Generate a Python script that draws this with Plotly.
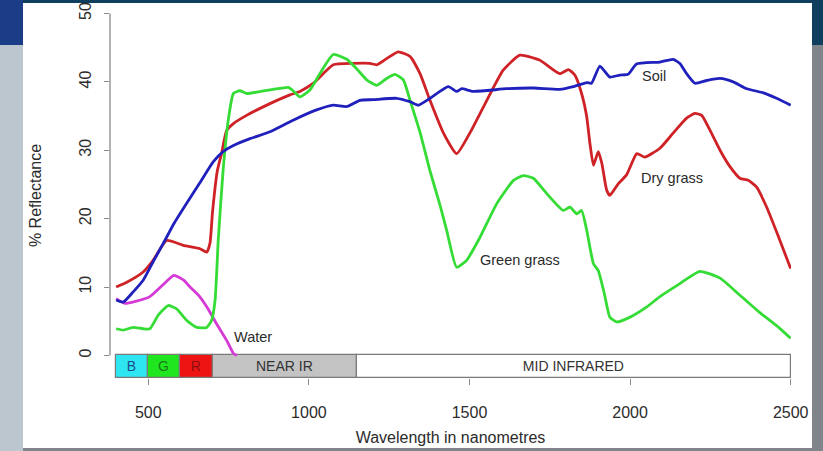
import plotly.graph_objects as go

# ---------------- data ----------------
water_wl = [400, 427, 460, 505, 545, 580, 610, 630, 660, 682, 713, 744, 765, 776]
water_pct = [8.3, 7.6, 7.9, 8.6, 10.3, 11.7, 11.0, 10.0, 8.6, 7.1, 4.6, 2.2, 0.3, 0.0]

green_wl = [400, 422, 453, 484, 505, 531, 562, 588, 620, 651, 682, 697, 708, 718, 733, 749,
            765, 785, 806, 850, 889, 936, 951, 972, 1003, 1034, 1076, 1118, 1149, 1180, 1211,
            1242, 1268, 1294, 1315, 1346, 1377, 1408, 1429, 1460, 1491, 1533, 1585, 1637,
            1668, 1699, 1740, 1792, 1813, 1834, 1849, 1865, 1886, 1901, 1920, 1937, 1958,
            2000, 2052, 2093, 2155, 2217, 2280, 2342, 2403, 2465, 2500]
green_pct = [3.9, 3.7, 4.1, 3.9, 3.9, 5.9, 7.3, 6.8, 5.1, 4.1, 4.1, 5.1, 8.1, 17.0, 27.1, 34.4,
             38.3, 38.7, 38.3, 38.6, 38.9, 39.2, 38.7, 37.8, 38.8, 41.2, 44.0, 43.3, 41.9, 40.3, 39.5,
             40.5, 41.1, 40.3, 37.3, 32.6, 27.0, 22.0, 18.3, 12.9, 13.9, 17.3, 22.2, 25.6,
             26.3, 25.9, 23.7, 21.2, 21.7, 20.7, 21.2, 18.3, 13.4, 12.4, 9.0, 5.6, 4.9,
             5.6, 7.1, 8.6, 10.5, 12.3, 11.3, 8.8, 6.3, 4.0, 2.5]

dry_wl = [400, 433, 484, 515, 557, 609, 661, 682, 692, 700, 715, 728, 744, 765, 806, 869, 941,
          972, 1014, 1076, 1138, 1190, 1211, 1242, 1278, 1315, 1346, 1377, 1419, 1460, 1501,
          1554, 1605, 1657, 1718, 1781, 1808, 1828, 1849, 1865, 1875, 1886, 1901, 1912, 1927,
          1937, 1963, 1989, 2021, 2046, 2093, 2134, 2176, 2202, 2223, 2249, 2280, 2311, 2342,
          2368, 2394, 2425, 2460, 2500]
dry_pct = [10.0, 10.7, 12.2, 13.9, 16.8, 16.1, 15.6, 15.1, 16.4, 21.0, 27.0, 29.5, 32.9, 33.9,
           35.1, 36.6, 38.1, 38.6, 39.8, 42.5, 42.7, 42.7, 42.5, 43.4, 44.4, 43.7, 41.2, 37.3,
           32.5, 29.5, 32.5, 37.3, 41.7, 43.9, 43.2, 41.2, 41.8, 41.0, 38.3, 34.9, 31.0, 27.8,
           29.8, 28.1, 24.2, 23.4, 25.1, 26.4, 29.5, 29.0, 30.3, 32.5, 34.7, 35.4, 35.1, 32.9,
           30.0, 27.6, 25.9, 25.6, 24.6, 21.7, 17.6, 12.7]

soil_wl = [400, 422, 453, 484, 515, 547, 580, 620, 660, 702, 733, 765, 817, 879, 951, 1024, 1076,
           1118, 1159, 1200, 1273, 1315, 1341, 1377, 1434, 1460, 1476, 1512, 1616, 1700, 1781,
           1823, 1865, 1880, 1906, 1937, 1968, 1994, 2020, 2093, 2134, 2155, 2176, 2202, 2239,
           2280, 2321, 2363, 2415, 2456, 2500]
soil_pct = [8.1, 7.8, 9.3, 11.0, 13.7, 16.4, 19.3, 22.3, 25.2, 28.3, 29.8, 30.7, 31.7, 32.7, 34.4,
            35.9, 36.6, 36.4, 37.3, 37.4, 37.6, 37.1, 36.6, 37.6, 39.3, 38.6, 39.0, 38.6, 39.0,
            39.1, 38.9, 39.3, 39.9, 39.8, 42.3, 40.7, 41.0, 41.1, 42.6, 42.9, 43.3, 42.7, 41.2,
            39.8, 40.2, 40.5, 40.0, 39.0, 38.4, 37.6, 36.6]

band_edges = [400, 500, 600, 700, 1150, 2500]
band_labels = ["B", "G", "R", "NEAR IR", "MID INFRARED"]

label_text = ["Water", "Green grass", "Dry grass", "Soil"]
label_wl = [825, 1657, 2129, 2074]
label_pct = [2.7, 13.9, 26.0, 40.9]

x_ticks = [500, 1000, 1500, 2000, 2500]
y_ticks = [0, 10, 20, 30, 40, 50]

# ---------------- styling ----------------
W, H = 823, 451
ML, MR, MT, MB = 110, 32, 13, 73
PW, PH = W - ML - MR, H - MT - MB
FONT = "Liberation Sans, Arial, sans-serif"
TXT = "#2b2b2b"
AX = "#8a8a8a"

band_fill = ["#2ee6f2", "#1fe61f", "#ee1414", "#c3c3c3", "#ffffff"]
band_text = ["#1b4f8a", "#1a7a1a", "#8a1010", "#333333", "#333333"]


def px_x(p):
    return (p - ML) / PW


def px_y(p):
    return (H - MB - p) / PH


fig = go.Figure()

# spectral band strip
centers = [(a + b) / 2 for a, b in zip(band_edges[:-1], band_edges[1:])]
widths = [b - a for a, b in zip(band_edges[:-1], band_edges[1:])]
base = -3.25
fig.add_trace(go.Bar(
    x=centers, width=widths, y=[-base] * len(centers), base=base,
    marker=dict(color=band_fill, line=dict(color="#7a7a7a", width=1.2)),
    text=band_labels, textposition="inside", insidetextanchor="middle",
    textangle=0, constraintext="none",
    textfont=dict(family=FONT, size=14, color=band_text),
    hoverinfo="skip", showlegend=False,
))

series = [
    (water_wl, water_pct, "#d63ad6"),
    (dry_wl, dry_pct, "#cf2227"),
    (green_wl, green_pct, "#35dc35"),
    (soil_wl, soil_pct, "#2020bd"),
]
for xs, ys, col in series:
    fig.add_trace(go.Scatter(
        x=xs, y=ys, mode="lines",
        line=dict(color=col, width=2.8, shape="spline", smoothing=0.5),
        hoverinfo="skip", showlegend=False,
    ))

for t, xv, yv in zip(label_text, label_wl, label_pct):
    fig.add_annotation(x=xv, y=yv, text=t, showarrow=False,
                       font=dict(family=FONT, size=14.5, color=TXT))

shapes = [
    # slide background pieces
    dict(type="rect", xref="paper", yref="paper", x0=px_x(0), x1=px_x(W), y0=px_y(0), y1=px_y(45),
         fillcolor="#0f3e5e", line=dict(width=0), layer="below"),
    dict(type="rect", xref="paper", yref="paper", x0=px_x(0), x1=px_x(23), y0=px_y(0), y1=px_y(45),
         fillcolor="#1b3c86", line=dict(width=0), layer="below"),
    dict(type="rect", xref="paper", yref="paper", x0=px_x(0), x1=px_x(23), y0=px_y(45), y1=px_y(H),
         fillcolor="#bcc6ce", line=dict(width=0), layer="below"),
    dict(type="rect", xref="paper", yref="paper", x0=px_x(23), x1=px_x(812), y0=px_y(3), y1=px_y(448),
         fillcolor="#ffffff", line=dict(width=0), layer="below"),
    # y axis line (0..50 only)
    dict(type="line", xref="paper", yref="y", x0=0, x1=0, y0=0, y1=50,
         line=dict(color=AX, width=1.3)),
]
fig.update_layout(shapes=shapes)

fig.update_layout(
    width=W, height=H,
    margin=dict(l=ML, r=MR, t=MT, b=MB, pad=0, autoexpand=False),
    paper_bgcolor="#7f858b", plot_bgcolor="rgba(0,0,0,0)",
    font=dict(family=FONT, color=TXT),
    bargap=0,
    xaxis=dict(range=[380.8, 2501], tickvals=x_ticks, ticks="outside", ticklen=6,
               tickcolor=AX, tickwidth=1.2, showgrid=False, zeroline=False, showline=False,
               automargin=False,
               tickfont=dict(size=16, color=TXT), ticklabelstandoff=14,
               title=dict(text="Wavelength in nanometres", font=dict(size=16, color=TXT), standoff=11)),
    yaxis=dict(range=[-3.3, 50.07], tickvals=y_ticks, ticks="outside", ticklen=5,
               tickcolor=AX, tickwidth=1.2, showgrid=False, zeroline=False, showline=False,
               automargin=False,
               tickangle=-90, tickfont=dict(size=16, color=TXT), ticklabelstandoff=7,
               title=dict(text="% Reflectance", font=dict(size=16, color=TXT), standoff=30)),
)

fig.write_html("out.html", config={"displayModeBar": False},
               post_script="document.body.style.margin='0';document.body.style.overflow='hidden';")
